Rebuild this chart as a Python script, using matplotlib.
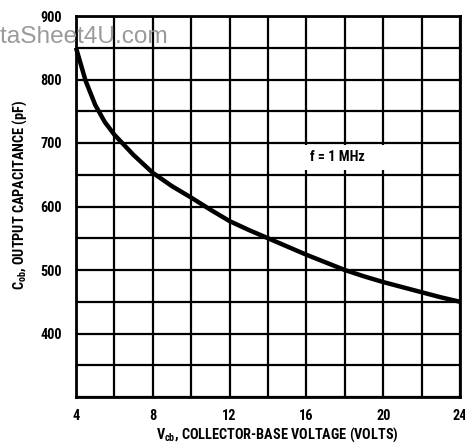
import matplotlib
matplotlib.use("Agg")
import matplotlib.pyplot as plt
from matplotlib.patches import Rectangle
from matplotlib import font_manager

# ---- data ----
vcb = [4, 4.5, 5, 5.5, 6, 7, 8, 9, 10, 11, 12, 13, 14, 15, 16, 17, 18, 19, 20, 21, 22, 23, 24]
cob = [850, 798, 760, 733, 713, 681, 653, 632, 614, 595, 577, 563, 550, 537, 524, 512, 500, 490, 481, 473, 465, 457, 450]
xticks = [4, 8, 12, 16, 20, 24]
yticks = [400, 500, 600, 700, 800, 900]
annotation = "f = 1 MHz"
xlabel = r"V$_{\mathregular{cb}}$, COLLECTOR-BASE VOLTAGE (VOLTS)"
ylabel = r"C$_{\mathregular{ob}}$, OUTPUT CAPACITANCE (pF)"
watermark = "DataSheet4U.com"

# ---- pick a narrow font if one is installed ----
flist = font_manager.fontManager.ttflist
narrow_names = sorted({f.name for f in flist if ('Narrow' in f.name or 'Condensed' in f.name)})
cond_stretch = ('condensed', 'semi-condensed', 'extra-condensed', 'ultra-condensed', 300, 400, 200, 100)
family = None
stretch = 'normal'
for pref in ['Liberation Sans Narrow', 'Arial Narrow', 'Roboto Condensed', 'Open Sans Condensed',
             'Noto Sans Condensed', 'DejaVu Sans Condensed']:
    if pref in narrow_names:
        family = pref
        break
if family is None and narrow_names:
    family = narrow_names[0]
if family is None:
    for fam in ['Noto Sans', 'Open Sans', 'Roboto', 'DejaVu Sans', 'Liberation Sans']:
        if any(f.name == fam and f.stretch in cond_stretch for f in flist):
            family = fam
            stretch = 'condensed'
            break
found = family is not None
if family is None:
    family = 'Liberation Sans'

plt.rcParams['font.family'] = [family, 'DejaVu Sans']
plt.rcParams['font.stretch'] = stretch
plt.rcParams['mathtext.fontset'] = 'custom'
plt.rcParams['mathtext.rm'] = family + ':bold'
plt.rcParams['mathtext.it'] = family + ':bold'
plt.rcParams['mathtext.bf'] = family + ':bold'

fs_tick = 10.3 if found else 8.5
fs_lab = 10.3 if found else 8

fig = plt.figure(figsize=(4.65, 4.47), dpi=100)
ax = fig.add_axes([76 / 465, 1 - 397 / 447, (460 - 76) / 465, (397 - 16) / 447])

ax.set_xlim(4, 24)
ax.set_ylim(300, 900)
ax.set_xticks(xticks)
ax.set_xticks([v for v in range(4, 25, 2) if v not in xticks], minor=True)
ax.set_yticks(yticks)
ax.set_yticks([v for v in range(300, 901, 50) if v not in yticks], minor=True)
ax.grid(True, which='both', color='black', linewidth=1.6)
ax.set_axisbelow(True)
ax.tick_params(which='both', length=0)
ax.tick_params(axis='x', pad=9)
ax.tick_params(axis='y', pad=10)
for lab in ax.get_xticklabels() + ax.get_yticklabels():
    lab.set_fontsize(fs_tick)
    lab.set_fontweight('bold')

for s in ax.spines.values():
    s.set_linewidth(2)
    s.set_color('black')

ax.add_patch(Rectangle((14.5, 658), 5.7, 39, facecolor='white', edgecolor='none', zorder=2))
ax.text(17.6, 678, annotation, ha='center', va='center', fontsize=fs_tick, fontweight='bold', zorder=3)

ax.plot(vcb, cob, color='black', linewidth=3.2, solid_capstyle='butt', solid_joinstyle='round',
        zorder=4, clip_on=False)

ax.set_xlabel(xlabel, fontsize=fs_lab, fontweight='bold')
ax.set_ylabel(ylabel, fontsize=fs_lab, fontweight='bold')
ax.xaxis.set_label_coords((277 - 76) / 384, (397 - 435) / 381)
ax.yaxis.set_label_coords((20 - 76) / 384, (397 - 195) / 381)
ax.xaxis.label.set_va('center')
ax.yaxis.label.set_va('center')

fig.text(168 / 465, 1 - 43 / 447, watermark, ha='right', va='baseline', fontsize=17.6,
         color='#9a9a9a', family=['Liberation Sans', 'DejaVu Sans'], stretch='normal', zorder=10)

fig.savefig("out.png", dpi=100, facecolor='white')
